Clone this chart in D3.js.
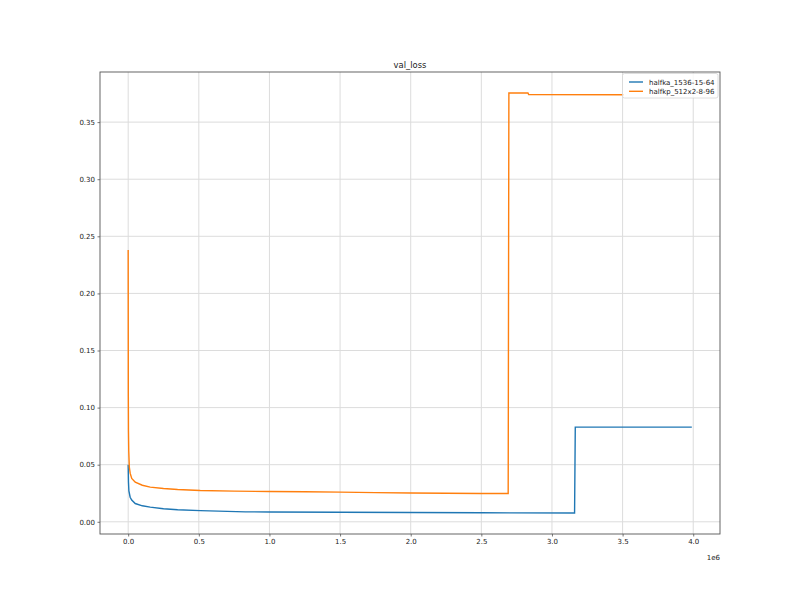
<!DOCTYPE html>
<html><head><meta charset="utf-8">
<script src="https://cdn.jsdelivr.net/npm/d3@7"></script>
<style>
body{margin:0;background:#fff}
text{font-family:"DejaVu Sans",sans-serif;}
</style>
</head><body><svg id="c" width="800" height="600"></svg>
<script>
const chartTitle = "val_loss";
const seriesNames = ["halfka_1536-15-64", "halfkp_512x2-8-96"];
const seriesColors = ["#1f77b4", "#ff7f0e"];

const stepsA = [0, 2000, 5000, 14000, 25000, 50000, 100000, 156000, 250000, 350000, 510000, 830000, 1000000, 1500000, 2000000, 2500000, 3160000, 3165000, 3990000];
const lossA  = [0.050, 0.035, 0.027, 0.0215, 0.019, 0.016, 0.014, 0.0128, 0.0114, 0.0106, 0.0098, 0.0087, 0.0086, 0.0084, 0.0081, 0.0079, 0.0077, 0.0829, 0.0829];

const stepsB = [0, 1000, 2000, 4000, 8000, 14000, 25000, 50000, 100000, 156000, 250000, 350000, 510000, 750000, 1000000, 1250000, 1500000, 1750000, 2000000, 2250000, 2500000, 2690000, 2695000, 2830000, 2835000, 3510000];
const lossB  = [0.238, 0.110, 0.080, 0.062, 0.048, 0.0426, 0.038, 0.0347, 0.032, 0.0304, 0.0292, 0.0283, 0.0274, 0.0269, 0.0265, 0.0263, 0.0260, 0.0255, 0.0252, 0.0250, 0.0248, 0.0248, 0.3755, 0.3755, 0.3741, 0.3740];

const xTicks = [0, 500000, 1000000, 1500000, 2000000, 2500000, 3000000, 3500000, 4000000];
const xTickLabels = ["0.0", "0.5", "1.0", "1.5", "2.0", "2.5", "3.0", "3.5", "4.0"];
const xOffsetLabel = "1e6";
const yTicks = [0, 0.05, 0.10, 0.15, 0.20, 0.25, 0.30, 0.35];
const yTickLabels = ["0.00", "0.05", "0.10", "0.15", "0.20", "0.25", "0.30", "0.35"];

const L = 100, R = 720, T = 72, B = 534;
const svg = d3.select("#c");

const allX = stepsA.concat(stepsB), allY = lossA.concat(lossB);
const [x0, x1] = d3.extent(allX), [y0, y1] = d3.extent(allY);
const px = (x1 - x0) * 0.05, py = (y1 - y0) * 0.05;
const x = d3.scaleLinear().domain([x0 - px, x1 + px]).range([L, R]);
const y = d3.scaleLinear().domain([y0 - py, y1 + py]).range([B, T]);

// grid
const g = svg.append("g");
g.selectAll("line.gx").data(xTicks).join("line")
  .attr("x1", d => x(d)).attr("x2", d => x(d)).attr("y1", T).attr("y2", B)
  .attr("stroke", "#dcdcdc").attr("stroke-width", 1);
g.selectAll("line.gy").data(yTicks).join("line")
  .attr("y1", d => y(d)).attr("y2", d => y(d)).attr("x1", L).attr("x2", R)
  .attr("stroke", "#dcdcdc").attr("stroke-width", 1);

// lines
const series = [
  stepsA.map((s, i) => [s, lossA[i]]),
  stepsB.map((s, i) => [s, lossB[i]])
];
const line = d3.line().x(d => x(d[0])).y(d => y(d[1]));
series.forEach((s, i) => {
  svg.append("path").datum(s).attr("d", line).attr("fill", "none")
    .attr("stroke", seriesColors[i]).attr("stroke-width", 1.4)
    .attr("stroke-linejoin", "miter");
});

// axes
const xa = svg.append("g").attr("transform", `translate(0,${B})`)
  .call(d3.axisBottom(x).tickValues(xTicks).tickFormat((d, i) => xTickLabels[i]).tickSize(2.5).tickPadding(2.5).tickSizeOuter(0));
const ya = svg.append("g").attr("transform", `translate(${L},0)`)
  .call(d3.axisLeft(y).tickValues(yTicks).tickFormat((d, i) => yTickLabels[i]).tickSize(2.5).tickPadding(2.5).tickSizeOuter(0));
[xa, ya].forEach(a => {
  a.select(".domain").remove();
  a.selectAll(".tick line").attr("stroke", "#555").attr("stroke-width", 0.8);
  a.selectAll(".tick text").attr("fill", "#222").style("font-size", "7px").style("font-family", "DejaVu Sans");
});

// frame
svg.append("rect").attr("x", L).attr("y", T).attr("width", R - L).attr("height", B - T)
  .attr("fill", "none").attr("stroke", "#555").attr("stroke-width", 0.9);

svg.append("text").attr("x", R).attr("y", 560).attr("text-anchor", "end")
  .attr("fill", "#222").style("font-size", "7px").text(xOffsetLabel);

svg.append("text").attr("x", (L + R) / 2).attr("y", 68).attr("text-anchor", "middle")
  .attr("fill", "#222").style("font-size", "8.4px").text(chartTitle);

// legend
const lg = svg.append("g");
lg.append("rect").attr("x", 622.5).attr("y", 73.5).attr("width", 95.5).attr("height", 24.5).attr("rx", 2)
  .attr("fill", "#fff").attr("fill-opacity", 0.8).attr("stroke", "#d6d6d6").attr("stroke-width", 0.8);
seriesNames.forEach((n, i) => {
  const yy = 82 + i * 9.3;
  lg.append("line").attr("x1", 629).attr("x2", 643).attr("y1", yy).attr("y2", yy)
    .attr("stroke", seriesColors[i]).attr("stroke-width", 1.4);
  lg.append("text").attr("x", 649).attr("y", yy + 2.5).attr("fill", "#222")
    .style("font-size", "7px").text(n);
});
</script>
</body></html>
